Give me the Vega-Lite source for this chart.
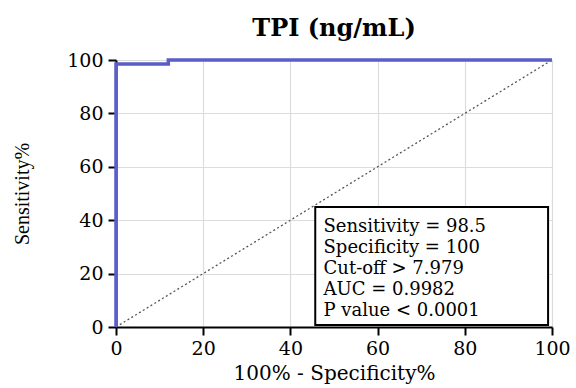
{
  "$schema": "https://vega.github.io/schema/vega-lite/v6.json",
  "width": 436,
  "height": 267,
  "autosize": {"type": "none"},
  "padding": {"left": 116, "top": 60, "right": 24, "bottom": 61},
  "background": "white",
  "title": {
    "text": "TPI (ng/mL)",
    "font": "DejaVu Serif",
    "fontSize": 24,
    "fontWeight": "bold",
    "color": "black",
    "anchor": "middle",
    "offset": 10
  },
  "config": {
    "view": {"stroke": null},
    "axis": {
      "labelFont": "DejaVu Serif",
      "labelFontSize": 19,
      "labelColor": "black",
      "labelFlush": false,
      "titleFont": "DejaVu Serif",
      "titleFontSize": 20,
      "titleFontWeight": "normal",
      "titleColor": "black",
      "domainColor": "black",
      "domainWidth": 2,
      "tickColor": "black",
      "tickWidth": 2,
      "tickSize": 8,
      "gridColor": "#dcdcdc",
      "gridWidth": 1.2
    }
  },
  "datasets": {
    "roc": [
      {"fpr": 0, "sens": 0},
      {"fpr": 0, "sens": 98.5},
      {"fpr": 12, "sens": 98.5},
      {"fpr": 12, "sens": 100},
      {"fpr": 100, "sens": 100}
    ],
    "diag": [
      {"fpr": 0, "sens": 0},
      {"fpr": 100, "sens": 100}
    ],
    "box": [
      {"x1": 45.7, "x2": 99.1, "y1": 0.75, "y2": 44.9}
    ],
    "stats": [
      {"label": "Sensitivity = 98.5", "x": 47.6, "y": 37.6},
      {"label": "Specificity = 100", "x": 47.6, "y": 29.7},
      {"label": "Cut-off  > 7.979", "x": 47.6, "y": 21.8},
      {"label": "AUC = 0.9982", "x": 47.6, "y": 13.9},
      {"label": "P value < 0.0001", "x": 47.6, "y": 6.0}
    ]
  },
  "layer": [
    {
      "data": {"name": "diag"},
      "mark": {"type": "line", "color": "#555555", "strokeWidth": 1.3, "strokeDash": [2, 2.5]},
      "encoding": {
        "x": {
          "field": "fpr", "type": "quantitative",
          "scale": {"domain": [0, 100], "nice": false},
          "axis": {"values": [0, 20, 40, 60, 80, 100], "title": "100% - Specificity%", "titlePadding": 5, "labelPadding": 4, "grid": true}
        },
        "y": {
          "field": "sens", "type": "quantitative",
          "scale": {"domain": [0, 100], "nice": false},
          "axis": {"values": [0, 20, 40, 60, 80, 100], "title": "Sensitivity%", "titleFont": "Liberation Serif", "titleFontSize": 20, "titlePadding": 34, "labelPadding": 5, "grid": true}
        }
      }
    },
    {
      "data": {"name": "box"},
      "mark": {"type": "rect", "fill": "white", "stroke": "black", "strokeWidth": 2},
      "encoding": {
        "x": {"field": "x1", "type": "quantitative"},
        "x2": {"field": "x2"},
        "y": {"field": "y1", "type": "quantitative"},
        "y2": {"field": "y2"}
      }
    },
    {
      "data": {"name": "stats"},
      "mark": {"type": "text", "align": "left", "baseline": "middle", "font": "DejaVu Serif", "fontSize": 18, "color": "black"},
      "encoding": {
        "x": {"field": "x", "type": "quantitative"},
        "y": {"field": "y", "type": "quantitative"},
        "text": {"field": "label"}
      }
    },
    {
      "data": {"name": "roc"},
      "mark": {"type": "line", "color": "#5a5ec6", "strokeWidth": 3.5, "clip": false},
      "encoding": {
        "x": {"field": "fpr", "type": "quantitative"},
        "y": {"field": "sens", "type": "quantitative"},
        "order": {"field": "__row", "type": "quantitative"}
      }
    }
  ]
}
